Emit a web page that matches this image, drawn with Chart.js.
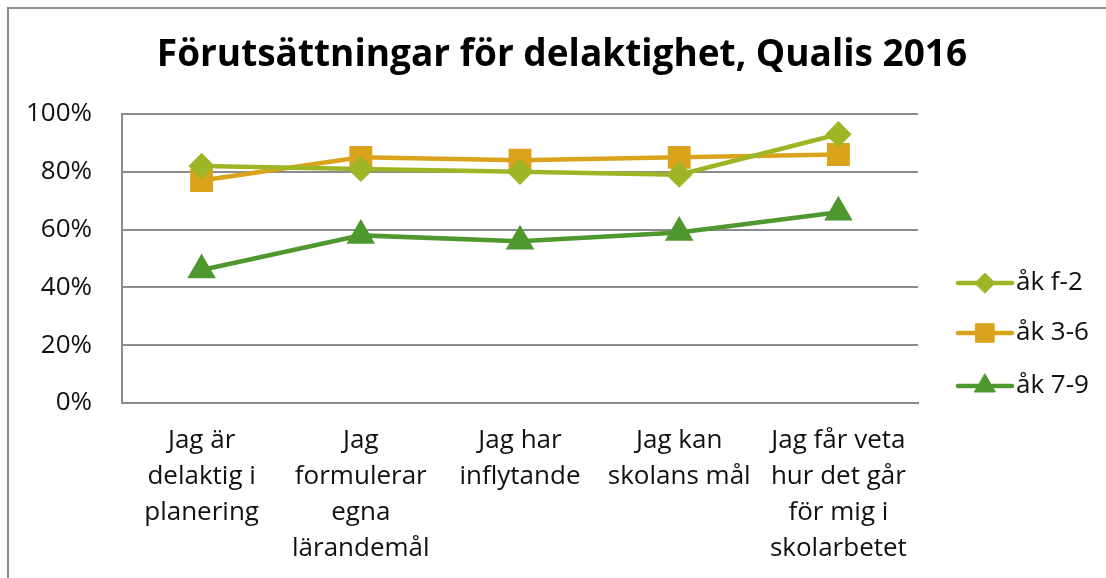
<!DOCTYPE html>
<html>
<head>
<meta charset="utf-8">
<script src="https://cdn.jsdelivr.net/npm/chart.js@4"></script>
<style>
  html, body { margin: 0; padding: 0; background: #fff; }
  #wrap { width: 1106px; height: 578px; position: relative; }
</style>
</head>
<body>
<div id="wrap"><canvas id="chart" width="1106" height="578"></canvas></div>
<script>
// chart data
const chartTitle = 'Förutsättningar för delaktighet, Qualis 2016';
const categories = [
  ['Jag är', 'delaktig i', 'planering'],
  ['Jag', 'formulerar', 'egna', 'lärandemål'],
  ['Jag har', 'inflytande'],
  ['Jag kan', 'skolans mål'],
  ['Jag får veta', 'hur det går', 'för mig i', 'skolarbetet']
];
const seriesNames = ['åk f-2', 'åk 3-6', 'åk 7-9'];
const valuesF2 = [82, 81, 80, 79, 93];
const values36 = [77, 85, 84, 85, 86];
const values79 = [46, 58, 56, 59, 66];
const yTicks = [0, 20, 40, 60, 80, 100];

const FONT = "'Open Sans', 'Noto Sans', sans-serif";
const GRID = '#8c8c8c';

const seriesStyle = [
  { color: '#9fb526', pointStyle: 'rectRot', radius: 10 },
  { color: '#d9a31b', pointStyle: 'rect', radius: 13 },
  { color: '#4f972f', pointStyle: 'triangle', radius: 12 }
];

const seriesValues = [valuesF2, values36, values79];

// title, legend and outer frame
const decorPlugin = {
  id: 'decor',
  beforeDraw(chart) {
    const ctx = chart.ctx;
    ctx.save();
    ctx.strokeStyle = GRID;
    ctx.lineWidth = 2;
    ctx.beginPath();
    ctx.moveTo(8, 600);
    ctx.lineTo(8, 8);
    ctx.lineTo(1110, 8);
    ctx.stroke();
    ctx.restore();
  },
  afterDraw(chart) {
    const ctx = chart.ctx;
    ctx.save();
    ctx.fillStyle = '#000';
    ctx.font = 'bold 37px ' + FONT;
    ctx.textAlign = 'center';
    ctx.textBaseline = 'middle';
    ctx.fillText(chartTitle, 562, 55);

    const legendY = [283, 333, 386];
    chart.data.datasets.forEach((ds, i) => {
      const y = legendY[i];
      ctx.strokeStyle = ds.borderColor;
      ctx.lineWidth = ds.borderWidth;
      ctx.lineCap = 'round';
      ctx.beginPath();
      ctx.moveTo(958, y);
      ctx.lineTo(1012, y);
      ctx.stroke();
      ctx.fillStyle = ds.pointBackgroundColor;
      ctx.strokeStyle = ds.pointBorderColor;
      ctx.lineWidth = 1;
      Chart.helpers.drawPoint(ctx, { pointStyle: ds.pointStyle, radius: ds.pointRadius, borderWidth: 1 }, 985, y);
      ctx.fillStyle = '#111';
      ctx.font = '26px ' + FONT;
      ctx.textAlign = 'left';
      ctx.textBaseline = 'middle';
      ctx.fillText(ds.label, 1016, y);
    });
    ctx.restore();
  }
};

const datasets = seriesNames.map((name, i) => ({
  label: name,
  data: seriesValues[i],
  borderColor: seriesStyle[i].color,
  backgroundColor: seriesStyle[i].color,
  pointBackgroundColor: seriesStyle[i].color,
  pointBorderColor: seriesStyle[i].color,
  pointStyle: seriesStyle[i].pointStyle,
  pointRadius: seriesStyle[i].radius,
  pointHoverRadius: seriesStyle[i].radius,
  borderWidth: 4.5,
  tension: 0,
  fill: false
}));

new Chart(document.getElementById('chart').getContext('2d'), {
  type: 'line',
  data: { labels: categories, datasets: datasets },
  options: {
    responsive: false,
    animation: false,
    events: [],
    layout: { padding: { top: 114, right: 188, bottom: 0, left: 0 } },
    plugins: { legend: { display: false }, title: { display: false }, tooltip: { enabled: false } },
    scales: {
      x: {
        offset: true,
        grid: { display: false, drawTicks: false },
        border: { display: true, color: GRID, width: 2 },
        ticks: {
          color: '#111',
          font: { family: FONT, size: 26, lineHeight: 1.385 },
          padding: 20,
          maxRotation: 0,
          autoSkip: false
        },
        afterFit(scale) { scale.height = 175; }
      },
      y: {
        min: 0,
        max: 100,
        afterBuildTicks(scale) { scale.ticks = yTicks.map(v => ({ value: v })); },
        grid: { color: GRID, lineWidth: 2, drawTicks: false },
        border: { display: true, color: GRID, width: 2 },
        ticks: {
          color: '#111',
          font: { family: FONT, size: 26 },
          padding: 30,
          callback: v => v + '%'
        },
        afterFit(scale) { scale.width = 122; }
      }
    }
  },
  plugins: [decorPlugin]
});
</script>
</body>
</html>
